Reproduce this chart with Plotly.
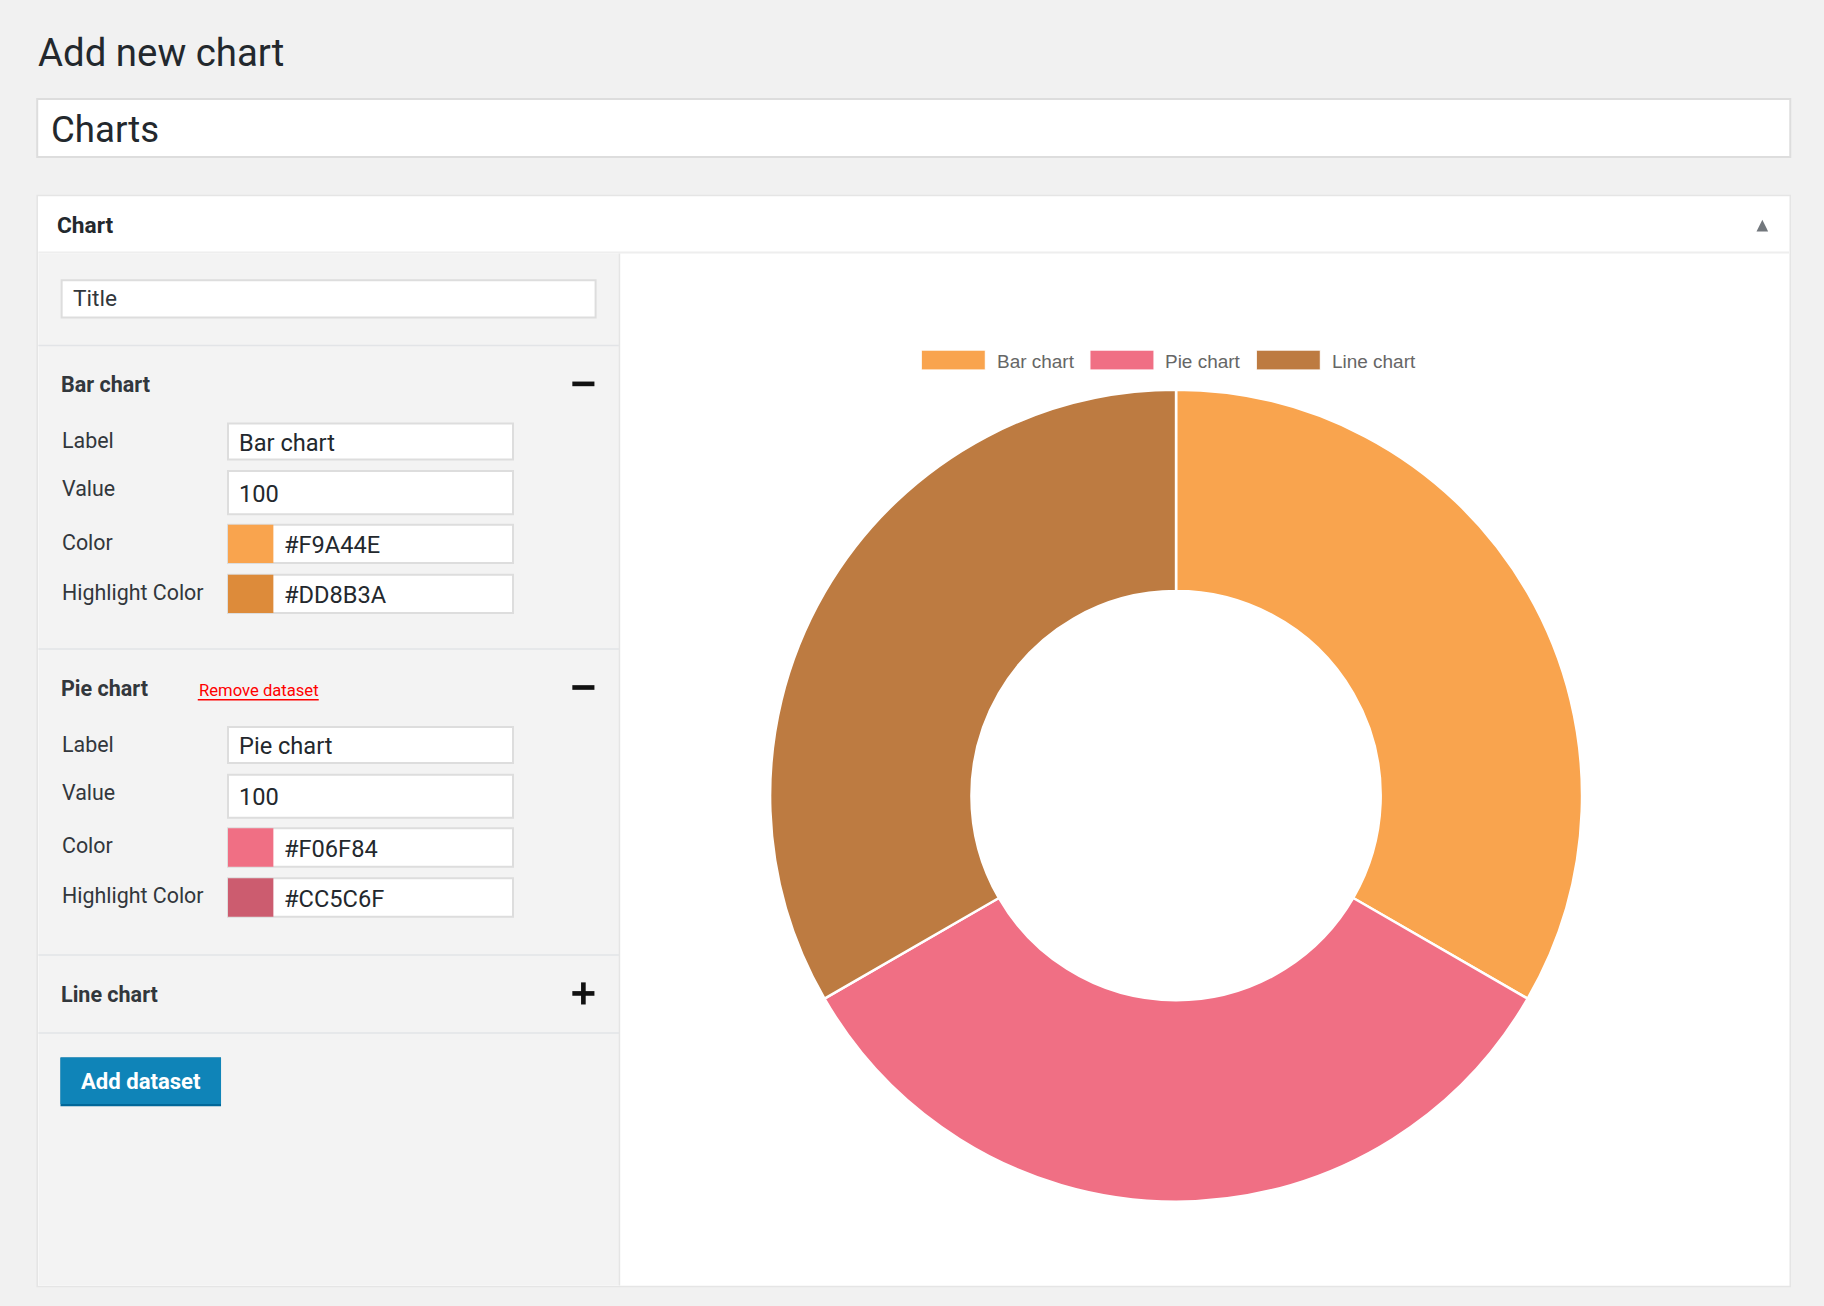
"""WordPress 'Add new chart' screen: settings form plus doughnut preview"""

import plotly.graph_objects as go

W, H = 1824, 1306
S = W / 1568  # layout was measured on a 1568 wide copy

page_title = "Add new chart"
post_title = "Charts"
box_title = "Chart"
title_placeholder = "Title"

labels = ["Bar chart", "Pie chart", "Line chart"]
values = [100, 100, 100]
colors = ["#F9A44E", "#F06F84", "#BD7B41"]
highlight_colors = ["#DD8B3A", "#CC5C6F", "#A8682F"]
expanded = [True, True, False]
field_names = ["Label", "Value", "Color", "Highlight Color"]
remove_text = "Remove dataset"
add_text = "Add dataset"

FONT = "Roboto"
DARK = "#23282d"
TEXT = "#32373c"
BORDER = "#dddddd"


def p(v):
    return v * S


shapes = []
annotations = []


def rect(x0, y0, x1, y1, fill, line=None, width=0, layer="below"):
    shapes.append(dict(type="rect", xref="x", yref="y", x0=p(x0), y0=p(y0), x1=p(x1), y1=p(y1),
                       fillcolor=fill, line=dict(color=line or fill, width=width), layer=layer))


def hline(x0, x1, y, color="#e2e4e7", width=1.5):
    shapes.append(dict(type="line", xref="x", yref="y", x0=p(x0), x1=p(x1), y0=p(y), y1=p(y),
                       line=dict(color=color, width=width), layer="below"))


def text(x, y, s, size, color=TEXT, bold=False, family=FONT, anchor="left"):
    annotations.append(dict(x=p(x), y=p(y), xref="x", yref="y", text="<b>%s</b>" % s if bold else s,
                            showarrow=False, xanchor=anchor, yanchor="middle",
                            font=dict(family=family, size=p(size), color=color)))


# page heading and title input
text(31, 45, page_title, 33, DARK)
rect(32, 85, 1539, 135, "white", "#dddddd", 2)
text(42, 111, post_title, 31.5, DARK)

# postbox
rect(32, 168, 1539, 1106, "white", "#e5e5e5", 1.5)
hline(33, 1538, 217, "#eeeeee", 2)
text(47, 194, box_title, 19.5, DARK, bold=True)
shapes.append(dict(type="path", xref="x", yref="y",
                   path="M %f %f L %f %f L %f %f Z" % (p(1510), p(199), p(1520), p(199), p(1515), p(189)),
                   fillcolor="#72777c", line=dict(width=0), layer="above"))

# left settings column
rect(33, 218, 532, 1105, "#f3f3f3")
shapes.append(dict(type="line", xref="x", yref="y", x0=p(532.5), x1=p(532.5), y0=p(218), y1=p(1105),
                   line=dict(color="#e5e5e5", width=1.5), layer="below"))
rect(53, 241, 512, 273, "white", BORDER, 2)
text(61, 257, title_placeholder, 19.5)
hline(33, 532, 297)

section_height = [261, 263, 67]
y = 297
for i, name in enumerate(labels):
    top = y
    text(51, top + 33.5, name, 18.5, TEXT, bold=True)
    rect(492, top + 31, 511, top + 35, "#111111", layer="above")
    if not expanded[i]:
        rect(499.5, top + 23.5, 503.5, top + 42.5, "#111111", layer="above")
    if i == 1:
        annotations.append(dict(x=p(169), y=p(top + 35.5), xref="x", yref="y", text=remove_text,
                                showarrow=False, xanchor="left", yanchor="middle",
                                font=dict(family=FONT, size=p(14.3), color="#ff0000")))
        hline(170, 274, top + 43.5, "#ff0000", 1.5)
    if expanded[i]:
        rows = [(82, 67, 98), (123, 108, 145), (169, 154, 187), (212, 197, 230)]
        contents = [name, str(values[i]), colors[i].upper(), highlight_colors[i].upper()]
        for k, (ty, b0, b1) in enumerate(rows):
            text(52, top + ty, field_names[k], 18.4)
            rect(196, top + b0, 441, top + b1, "white", BORDER, 2)
            if k < 2:
                text(204, top + (b0 + b1) / 2 + 1, contents[k], 20.3, DARK)
            else:
                swatch = colors[i] if k == 2 else highlight_colors[i]
                rect(196, top + b0, 235, top + b1, swatch, layer="above")
                text(242, top + (b0 + b1) / 2 + 1, contents[k], 20.3, DARK)
    y = top + section_height[i]
    hline(33, 532, y)

# add dataset button
shapes.append(dict(type="rect", xref="x", yref="y", x0=p(52), x1=p(190), y0=p(909), y1=p(951),
                   fillcolor="#006799", line=dict(width=0), layer="below"))
shapes.append(dict(type="rect", xref="x", yref="y", x0=p(52), x1=p(190), y0=p(909), y1=p(949),
                   fillcolor="#0f84b8", line=dict(width=0), layer="below"))
text(121, 929, add_text, 19, "white", bold=True, anchor="center")

# chart legend
legend_x = [792, 937, 1080]
for i, name in enumerate(labels):
    rect(legend_x[i], 301, legend_x[i] + 55, 318, colors[i], "white", 1, layer="above")
    text(legend_x[i] + 63, 311, name, 16.3, "#666666", family="Liberation Sans")

cx, cy, r = p(1011), p(684), p(349)
fig = go.Figure()
fig.add_trace(go.Pie(
    labels=labels, values=values, hole=0.504, sort=False, direction="clockwise", rotation=0,
    marker=dict(colors=colors, line=dict(color="white", width=2.5)),
    textinfo="none", hoverinfo="label+value", showlegend=False,
    domain=dict(x=[(cx - r) / W, (cx + r) / W], y=[1 - (cy + r) / H, 1 - (cy - r) / H]),
))

fig.update_layout(
    width=W, height=H, margin=dict(l=0, r=0, t=0, b=0),
    paper_bgcolor="#f1f1f1", plot_bgcolor="rgba(0,0,0,0)",
    xaxis=dict(range=[0, W], visible=False, fixedrange=True),
    yaxis=dict(range=[H, 0], visible=False, fixedrange=True),
    shapes=shapes, annotations=annotations,
)
fig.write_html("out.html", config={"displayModeBar": False},
               post_script="document.body.style.margin='0';")
